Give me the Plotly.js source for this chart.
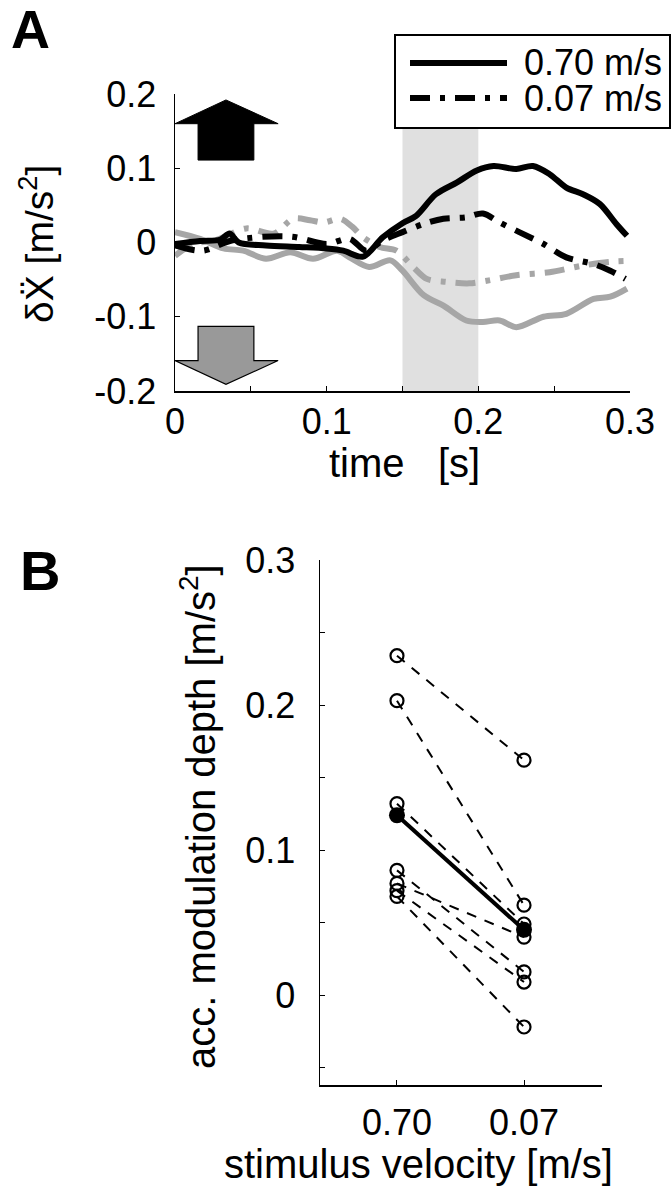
<!DOCTYPE html>
<html>
<head>
<meta charset="utf-8">
<script src="https://cdn.plot.ly/plotly-3.0.1.min.js"></script>
<style>
  html, body { margin: 0; padding: 0; background: #fff; }
  #chart { width: 672px; height: 1200px; }
</style>
</head>
<body>
<div id="chart"></div>
<script>
// --- panel A: acceleration traces (black = upward, gray = downward) ---
const tUp070 = [0, 0.0165, 0.03, 0.036, 0.042, 0.06, 0.082, 0.1, 0.111, 0.124, 0.137, 0.15, 0.159, 0.172, 0.186, 0.199, 0.21, 0.225, 0.236, 0.247, 0.258, 0.269, 0.28, 0.291, 0.298];
const accUp070 = [-0.002, 0.002, 0.004, 0.012, 0.0, -0.004, -0.006, -0.008, -0.011, -0.019, 0.007, 0.026, 0.036, 0.065, 0.081, 0.097, 0.103, 0.099, 0.103, 0.092, 0.074, 0.065, 0.052, 0.025, 0.009];

const tUp007 = [0, 0.018, 0.038, 0.076, 0.1, 0.115, 0.126, 0.137, 0.15, 0.164, 0.177, 0.192, 0.203, 0.214, 0.227, 0.243, 0.258, 0.276, 0.287, 0.297];
const accUp007 = [-0.004, -0.011, 0.003, 0.008, -0.002, 0.005, -0.011, 0.003, 0.014, 0.025, 0.032, 0.034, 0.039, 0.027, 0.014, -0.002, -0.02, -0.029, -0.038, -0.049];

const tDown070 = [0, 0.0165, 0.032, 0.045, 0.06, 0.076, 0.091, 0.107, 0.115, 0.128, 0.142, 0.15, 0.164, 0.177, 0.192, 0.203, 0.214, 0.225, 0.243, 0.258, 0.276, 0.287, 0.298];
const accDown070 = [0.014, 0.005, -0.008, -0.011, -0.022, -0.013, -0.022, -0.011, -0.02, -0.033, -0.024, -0.038, -0.071, -0.085, -0.105, -0.107, -0.105, -0.114, -0.1, -0.096, -0.076, -0.073, -0.062];

const tDown007 = [0, 0.012, 0.027, 0.047, 0.065, 0.078, 0.089, 0.098, 0.109, 0.117, 0.124, 0.135, 0.146, 0.157, 0.166, 0.179, 0.194, 0.207, 0.225, 0.247, 0.269, 0.287, 0.297];
const accDown007 = [-0.018, -0.002, 0.003, 0.019, 0.012, 0.032, 0.03, 0.027, 0.032, 0.021, 0.007, -0.006, -0.011, -0.033, -0.049, -0.053, -0.055, -0.051, -0.044, -0.04, -0.031, -0.026, -0.025];

const stimWindow = [0.15, 0.2];
const legendLabels = ['0.70 m/s', '0.07 m/s'];

// --- panel B: modulation depth per subject ---
const velocityLabels = ['0.70', '0.07'];
const depthFast = [0.234, 0.203, 0.132, 0.086, 0.077, 0.072, 0.068];
const depthSlow = [0.162, 0.062, 0.049, 0.016, 0.040, 0.009, -0.022];
const meanDepth = [0.124, 0.045];

// page is 672x1200, margins 0 -> paper coords from pixels
const W = 672, H = 1200;
const px = x => x / W;
const py = y => 1 - y / H;

const GRAY = '#a6a6a6';
const DASHDOT = '20px,10px,5px,10px';
const FONT = 'Liberation Sans, Arial, Helvetica, sans-serif';

function curve(t, v, color, dash) {
    return {
        x: t, y: v, xaxis: 'x', yaxis: 'y',
        mode: 'lines',
        line: { color: color, width: 6, dash: dash, shape: 'spline', smoothing: 0.9 },
        hoverinfo: 'skip'
    };
}

const traces = [
    curve(tDown007, accDown007, GRAY, DASHDOT),
    curve(tDown070, accDown070, GRAY, 'solid'),
    curve(tUp007, accUp007, '#000', DASHDOT),
    curve(tUp070, accUp070, '#000', 'solid')
];

// one dashed line per subject
depthFast.forEach((v, i) => {
    traces.push({
        x: [1, 2], y: [v, depthSlow[i]], xaxis: 'x2', yaxis: 'y2',
        mode: 'lines+markers',
        line: { color: '#000', width: 2, dash: '10px,9px' },
        marker: { symbol: 'circle-open', size: 13, color: '#000', line: { width: 2.2, color: '#000' } },
        hoverinfo: 'skip'
    });
});
traces.push({
    x: [1, 2], y: meanDepth, xaxis: 'x2', yaxis: 'y2',
    mode: 'lines+markers',
    line: { color: '#000', width: 4 },
    marker: { symbol: 'circle', size: 16, color: '#000' },
    hoverinfo: 'skip'
});

const axisBase = {
    showline: true, linecolor: '#000', linewidth: 1.5,
    showgrid: false, zeroline: false,
    ticks: 'inside', ticklen: 5, tickwidth: 1, tickcolor: '#000',
    tickfont: { size: 36, family: FONT, color: '#000' }, fixedrange: true
};

// arrows beside panel A's y axis
const upArrow = 'M0,0.16 L0.0336,0.192 L0.068,0.16 L0.052,0.16 L0.052,0.111 L0.0152,0.111 L0.0152,0.16 Z';
const downArrow = 'M0,-0.159 L0.0336,-0.191 L0.068,-0.159 L0.052,-0.159 L0.052,-0.113 L0.0152,-0.113 L0.0152,-0.159 Z';

const shapes = [
    { type: 'rect', xref: 'x', yref: 'y', x0: stimWindow[0], x1: stimWindow[1], y0: -0.2, y1: 0.2,
      fillcolor: '#e0e0e0', line: { width: 0 }, layer: 'below' },
    { type: 'path', xref: 'x', yref: 'y', path: upArrow, fillcolor: '#000', line: { color: '#000', width: 1 } },
    { type: 'path', xref: 'x', yref: 'y', path: downArrow, fillcolor: '#999', line: { color: '#000', width: 1.2 } },
    // legend box
    { type: 'rect', xref: 'paper', yref: 'paper', x0: px(395), x1: px(670), y0: py(128), y1: py(35),
      fillcolor: '#fff', line: { color: '#000', width: 2 } },
    { type: 'line', xref: 'paper', yref: 'paper', x0: px(410), x1: px(507), y0: py(63), y1: py(63),
      line: { color: '#000', width: 6 } },
    { type: 'line', xref: 'paper', yref: 'paper', x0: px(410), x1: px(507), y0: py(98), y1: py(98),
      line: { color: '#000', width: 6, dash: DASHDOT } }
];

function label(text, x, y, size, opts) {
    return Object.assign({
        text: text, xref: 'paper', yref: 'paper', x: px(x), y: py(y),
        xanchor: 'center', yanchor: 'middle', showarrow: false,
        font: { size: size, color: '#000', family: FONT }
    }, opts || {});
}

const annotations = [
    label('<b>A</b>', 30, 29, 54),
    label('<b>B</b>', 40, 570, 56),
    label('δX\u0308 [m/s<sup>2</sup>]', 36, 244, 39, { textangle: -90 }),
    label('time   [s]', 404, 463, 40),
    label('acc. modulation depth [m/s<sup>2</sup>]', 198, 817, 40, { textangle: -90 }),
    label('stimulus velocity [m/s]', 418, 1164, 40)
];
legendLabels.forEach((txt, i) => {
    annotations.push(label(txt, 522, 63 + 35 * i, 36, { xanchor: 'left' }));
});

const layout = {
    width: W, height: H,
    margin: { l: 0, r: 0, t: 0, b: 0 },
    paper_bgcolor: '#fff', plot_bgcolor: 'rgba(0,0,0,0)',
    showlegend: false,
    font: { family: FONT, color: '#000', size: 36 },
    xaxis: Object.assign({}, axisBase, {
        domain: [px(175), px(630)], anchor: 'y', range: [0, 0.3],
        tickmode: 'linear', tick0: 0, dtick: 0.1,
        minor: { tickmode: 'linear', tick0: 0, dtick: 0.05, ticks: 'inside', ticklen: 5, tickcolor: '#000' },
        ticklabelstandoff: -2
    }),
    yaxis: Object.assign({}, axisBase, {
        domain: [py(391), py(94)], anchor: 'x', range: [-0.2, 0.2],
        tickvals: [-0.2, -0.1, 0, 0.1, 0.2], ticktext: ['-0.2', '-0.1', '0', '0.1', '0.2'],
        ticklabelstandoff: 10
    }),
    xaxis2: Object.assign({}, axisBase, {
        domain: [px(320), px(602)], anchor: 'y2', range: [0.394, 2.614],
        tickvals: [1, 2], ticktext: velocityLabels,
        ticklabelstandoff: 5
    }),
    yaxis2: Object.assign({}, axisBase, {
        domain: [py(1085), py(560)], anchor: 'x2', range: [-0.062, 0.3],
        tickmode: 'linear', tick0: 0, dtick: 0.1,
        minor: { tickmode: 'linear', tick0: 0, dtick: 0.05, ticks: 'inside', ticklen: 5, tickcolor: '#000' },
        ticklabelstandoff: 16
    }),
    shapes: shapes,
    annotations: annotations
};

Plotly.newPlot('chart', traces, layout, { displayModeBar: false, staticPlot: true });
</script>
</body>
</html>
